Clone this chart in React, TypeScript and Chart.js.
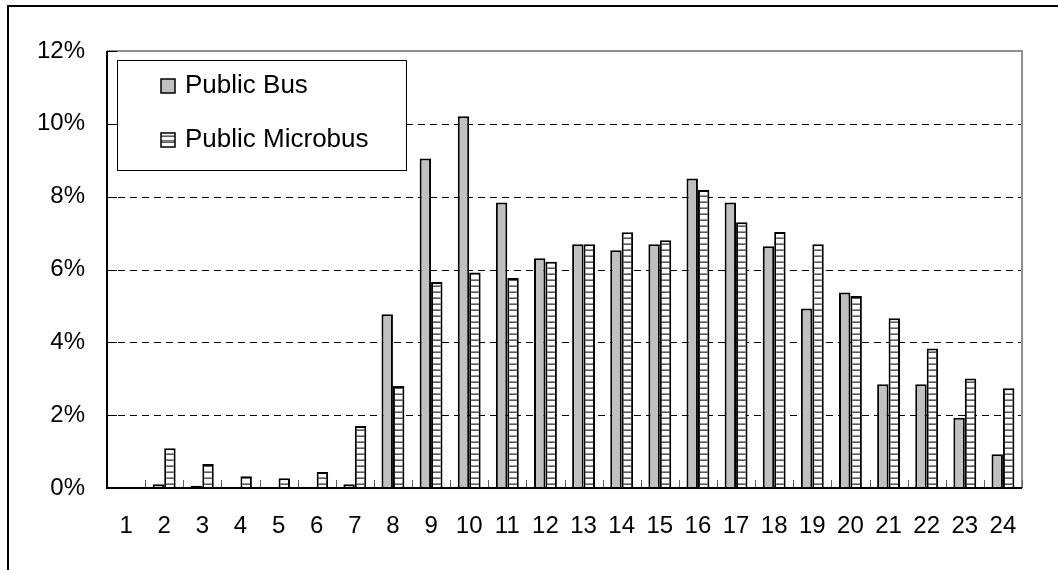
import React, { useEffect, useRef } from "react";
import { Chart, registerables } from "chart.js";

Chart.register(...registerables);

const hours = ["1","2","3","4","5","6","7","8","9","10","11","12","13","14","15","16","17","18","19","20","21","22","23","24"];
const publicBus = [0, 0.1, 0.06, 0, 0, 0, 0.1, 4.77, 9.05, 10.21, 7.84, 6.31, 6.69, 6.53, 6.69, 8.5, 7.84, 6.64, 4.93, 5.37, 2.85, 2.85, 1.93, 0.93];
const publicMicrobus = [0, 1.09, 0.66, 0.32, 0.27, 0.44, 1.7, 2.8, 5.66, 5.92, 5.77, 6.21, 6.69, 7.02, 6.8, 8.18, 7.3, 7.03, 6.69, 5.27, 4.66, 3.83, 3.01, 2.74];
const yTicks = [0, 2, 4, 6, 8, 10, 12];
const seriesNames = ["Public Bus", "Public Microbus"];

const FONT = "'Liberation Sans', Arial, sans-serif";

function makeStripePattern(): CanvasPattern | string {
  const c = document.createElement("canvas");
  c.width = 6;
  c.height = 6;
  const g = c.getContext("2d");
  if (!g) return "#ffffff";
  g.fillStyle = "#ffffff";
  g.fillRect(0, 0, 6, 6);
  g.fillStyle = "#9a9a9a";
  g.fillRect(0, 3, 6, 1);
  g.fillStyle = "#5a5a5a";
  g.fillRect(0, 4, 6, 1);
  const p = g.createPattern(c, "repeat");
  return p || "#ffffff";
}

export default function App() {
  const ref = useRef<HTMLCanvasElement | null>(null);

  useEffect(() => {
    const canvas = ref.current;
    if (!canvas) return;
    const stripes = makeStripePattern();

    const framePlugin = {
      id: "framePlugin",
      beforeDatasetsDraw(chart: any) {
        const { ctx, chartArea } = chart;
        const y = chart.scales.y;
        ctx.save();
        ctx.strokeStyle = "#000";
        ctx.lineWidth = 1;
        ctx.setLineDash([7, 5]);
        yTicks.forEach((v) => {
          if (v === 0 || v === 12) return;
          const py = Math.round(y.getPixelForValue(v)) + 0.5;
          ctx.beginPath();
          ctx.moveTo(chartArea.left + 11, py);
          ctx.lineTo(chartArea.right, py);
          ctx.stroke();
        });
        ctx.restore();
      },
      afterDatasetsDraw(chart: any) {
        const { ctx, chartArea } = chart;
        const x = chart.scales.x;
        const y = chart.scales.y;
        const { left, right, top, bottom } = chartArea;
        ctx.save();
        ctx.strokeStyle = "#909090";
        ctx.lineWidth = 2;
        ctx.beginPath();
        ctx.moveTo(left, top);
        ctx.lineTo(right, top);
        ctx.lineTo(right, bottom);
        ctx.stroke();
        ctx.strokeStyle = "#606060";
        ctx.lineWidth = 1;
        const half = (x.getPixelForValue(1) - x.getPixelForValue(0)) / 2;
        for (let i = 0; i < hours.length; i++) {
          const px = Math.round(x.getPixelForValue(i) + half) + 0.5;
          ctx.beginPath();
          ctx.moveTo(px, bottom);
          ctx.lineTo(px, bottom - 8);
          ctx.stroke();
        }
        ctx.strokeStyle = "#000";
        yTicks.forEach((v) => {
          const py = Math.round(y.getPixelForValue(v)) + 0.5;
          ctx.beginPath();
          ctx.moveTo(left, py);
          ctx.lineTo(left + 10, py);
          ctx.stroke();
        });
        ctx.strokeStyle = "#000";
        ctx.lineWidth = 2;
        ctx.beginPath();
        ctx.moveTo(left, top);
        ctx.lineTo(left, bottom);
        ctx.lineTo(right, bottom);
        ctx.stroke();
        ctx.restore();
      },
      afterDraw(chart: any) {
        const { ctx, chartArea } = chart;
        ctx.save();
        ctx.strokeStyle = "#000";
        ctx.lineWidth = 2;
        ctx.beginPath();
        ctx.moveTo(8, 570);
        ctx.lineTo(8, 6);
        ctx.lineTo(1058, 6);
        ctx.stroke();
        const lx = chartArea.left + 10;
        const ly = chartArea.top + 9;
        ctx.fillStyle = "#fff";
        ctx.fillRect(lx, ly, 289, 110);
        ctx.strokeStyle = "#000";
        ctx.lineWidth = 1;
        ctx.strokeRect(lx + 0.5, ly + 0.5, 289, 110);
        const rows = [85, 139];
        const fills: any[] = ["#c0c0c0", stripes];
        ctx.font = `26px ${FONT}`;
        ctx.textBaseline = "middle";
        ctx.textAlign = "left";
        seriesNames.forEach((name, i) => {
          const cy = rows[i];
          ctx.fillStyle = fills[i];
          ctx.fillRect(161, cy - 6, 14, 14);
          if (i === 1) {
            ctx.fillStyle = "#707070";
            ctx.fillRect(161, cy + 1, 14, 1.5);
          }
          ctx.lineWidth = 1.5;
          ctx.strokeStyle = "#000";
          ctx.strokeRect(161, cy - 6, 14, 14);
          ctx.fillStyle = "#000";
          ctx.fillText(name, 185, cy + 1);
        });
        ctx.restore();
      },
    };

    const chart = new Chart(canvas, {
      type: "bar",
      data: {
        labels: hours,
        datasets: [
          {
            label: seriesNames[0],
            data: publicBus,
            backgroundColor: "#c0c0c0",
            borderColor: "#000",
            borderWidth: 2,
            categoryPercentage: 0.6,
            barPercentage: 1.0,
          },
          {
            label: seriesNames[1],
            data: publicMicrobus,
            backgroundColor: stripes as any,
            borderColor: "#000",
            borderWidth: 2,
            categoryPercentage: 0.6,
            barPercentage: 1.0,
          },
        ],
      },
      options: {
        responsive: false,
        animation: false,
        layout: { padding: { top: 51, right: 36, left: 0, bottom: 0 } },
        plugins: {
          legend: { display: false },
          tooltip: { enabled: false },
        },
        scales: {
          x: {
            grid: { display: false, drawTicks: false },
            border: { display: false },
            ticks: {
              color: "#000",
              font: { family: FONT, size: 24 },
              padding: 24,
              maxRotation: 0,
              autoSkip: false,
            },
            afterFit(scale: any) {
              scale.height = 82;
            },
          },
          y: {
            min: 0,
            max: 12,
            grid: { display: false, drawTicks: false },
            border: { display: false },
            ticks: {
              color: "#000",
              font: { family: FONT, size: 24 },
              padding: 22,
              callback: (v: any) => `${v}%`,
            },
            afterBuildTicks(scale: any) {
              scale.ticks = yTicks.map((v) => ({ value: v }));
            },
            afterFit(scale: any) {
              scale.width = 107;
            },
          },
        },
      },
      plugins: [framePlugin],
    });

    return () => chart.destroy();
  }, []);

  return (
    <div style={{ position: "fixed", left: 0, top: 0, width: 1058, height: 570, background: "#fff" }}>
      <canvas ref={ref} width={1058} height={570} style={{ width: 1058, height: 570, display: "block" }} />
    </div>
  );
}
